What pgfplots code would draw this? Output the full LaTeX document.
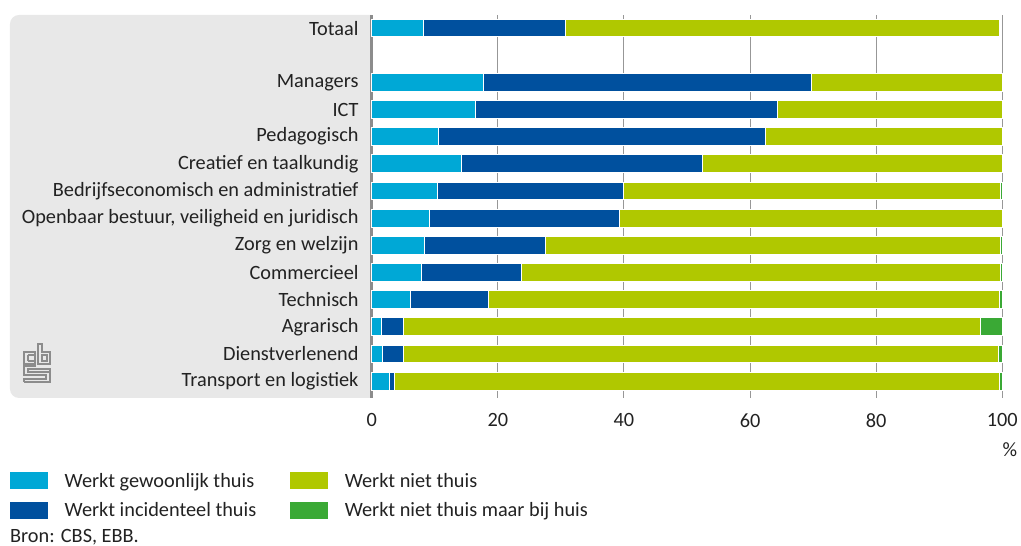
\documentclass[border=0pt]{standalone}
\usepackage{pgfplots}
\pgfplotsset{compat=1.18}
\usepackage{pgfplotstable}
\usepackage{fontspec}
\setmainfont{Carlito}
\definecolor{cbscyan}{HTML}{00A8D6}
\definecolor{cbsblue}{HTML}{00509E}
\definecolor{cbslime}{HTML}{B0C800}
\definecolor{cbsgreen}{HTML}{3AA935}
\definecolor{panel}{HTML}{E8E8E8}
\definecolor{txt}{HTML}{222222}
\definecolor{axgray}{HTML}{8C8C8C}

% y: position (Totaal at 13, empty slot 12, Managers 11 ... Transport 0)
\pgfplotstableread{
y  gewoon incid niet  bijhuis
13 8.2    22.6  68.7  0.0
11 17.8   51.9  30.3  0.0
10 16.5   47.8  35.7  0.0
9  10.6   51.8  37.6  0.0
8  14.2   38.2  47.6  0.0
7  10.5   29.4  59.8  0.3
6  9.1    30.2  60.7  0.0
5  8.3    19.3  72.1  0.3
4  7.9    15.9  75.9  0.3
3  6.1    12.5  81.0  0.4
2  1.5    3.5   91.5  3.5
1  1.7    3.4   94.3  0.6
0  2.8    0.8   96.0  0.4
}\datatable

\newcommand{\fs}{\fontsize{20.3pt}{24pt}\selectfont}
\begin{document}
\begin{tikzpicture}[x=1pt,y=1pt,font=\fs\color{txt}]
\useasboundingbox (-371.7,-148) rectangle (649.3,398);
% grey label panel
\fill[panel] (0,0) [rounded corners=9pt] -- (-361.7,0) -- (-361.7,383) [sharp corners] -- (0,383) -- cycle;
% cbs logo (decorative)
\begin{scope}[draw=axgray,line width=1.1pt,shift={(-347.7,16)}]
  \draw (0,0) -- (26,0) -- (26,13) -- (4,13) -- (4,10) -- (26,10);
  \draw (0,0) -- (0,3) -- (22,3) -- (22,7) -- (0,7) -- (0,16) -- (12,16);
  \draw (0,18) rectangle (11,30);
  \draw (4,21) -- (11,21) (4,27) -- (11,27) (4,21) -- (4,27);
  \draw (14,18) -- (26,18) -- (26,30) -- (18,30) -- (18,38) -- (14,38) -- cycle;
  \draw (18,21) rectangle (23,27);
\end{scope}
\begin{axis}[
  at={(0,0)}, anchor=south west,
  scale only axis,
  width=630.6pt, height=383pt,
  xbar stacked,
  bar width=0.66,
  xmin=0, xmax=100,
  ymin=-0.62, ymax=13.48,
  axis line style={draw=none},
  xtick={0,20,40,60,80,100},
  xmajorgrids,
  grid style={axgray!90, line width=0.9pt},
  major tick length=0pt,
  xticklabel style={font=\fs\color{txt}, yshift=-12pt},
  /pgf/number format/assume math mode=true,
  ytick={13,11,10,9,8,7,6,5,4,3,2,1,0},
  yticklabels={Totaal,Managers,ICT,Pedagogisch,Creatief en taalkundig,Bedrijfseconomisch en administratief,{Openbaar bestuur, veiligheid en juridisch},Zorg en welzijn,Commercieel,Technisch,Agrarisch,Dienstverlenend,Transport en logistiek},
  yticklabel style={font=\fs\color{txt}, inner xsep=0pt, xshift=-13pt},
  legend style={at={(-361.7pt,-73pt)}, anchor=north west, draw=none, fill=none,
    inner sep=0pt, font=\fs\color{txt},
    row sep=10pt,
    /tikz/every even column/.append style={column sep=32pt}},
  legend columns=2,
  transpose legend,
  legend cell align=left,
  legend image code/.code={\fill[#1,draw=none] (0pt,-8.5pt) rectangle (38pt,8.5pt); \path (52pt,0pt);},
  clip=false,
]
\addplot[fill=cbscyan, draw=white, line width=1pt] table[x=gewoon,y=y]{\datatable};
\addplot[fill=cbsblue, draw=white, line width=1pt] table[x=incid,y=y]{\datatable};
\addplot[fill=cbslime, draw=white, line width=1pt] table[x=niet,y=y]{\datatable};
\addplot[fill=cbsgreen, draw=white, line width=1pt] table[x=bijhuis,y=y]{\datatable};
\legend{Werkt gewoonlijk thuis,Werkt incidenteel thuis,Werkt niet thuis,Werkt niet thuis maar bij huis}
\draw[axgray, line width=3pt] (axis cs:0,-0.62) -- (axis cs:0,13.48);
\end{axis}
\node[anchor=center] at (638.3,-52) {\%};
\node[anchor=west, inner sep=0pt] at (-361.7,-139) {Bron: CBS, EBB.};
\end{tikzpicture}
\end{document}
